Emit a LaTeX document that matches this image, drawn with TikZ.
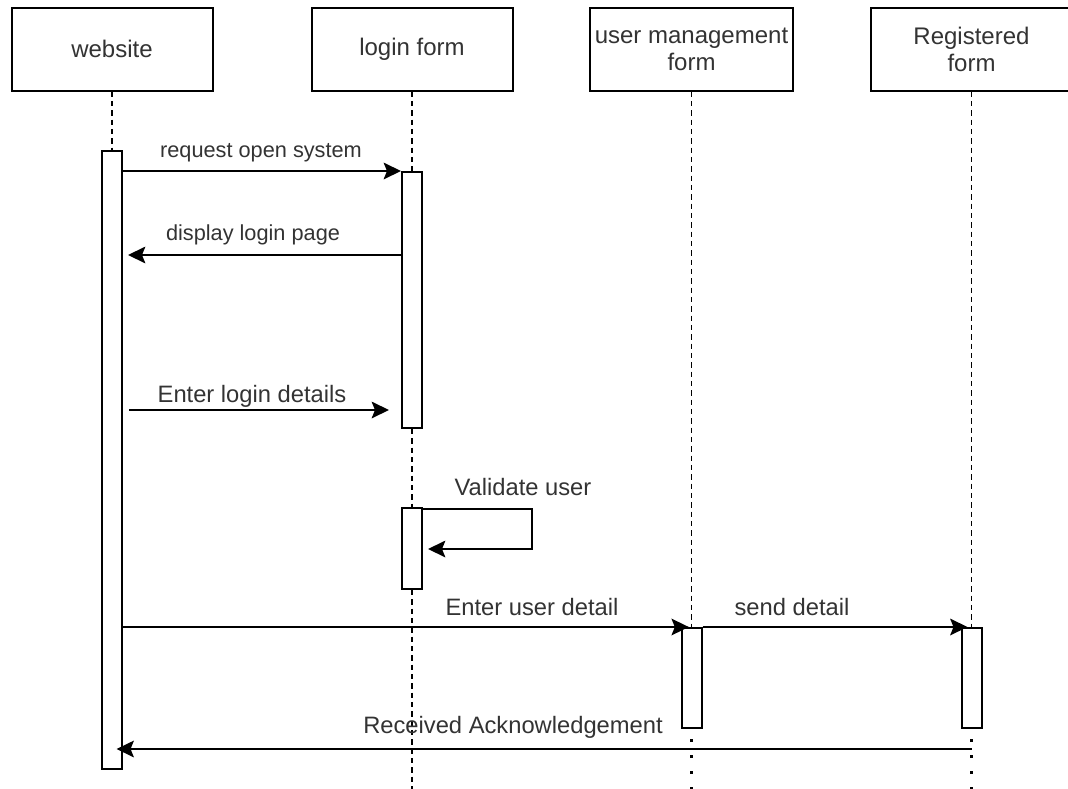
\documentclass[tikz,border=0pt]{standalone}
\usepackage{fontspec}
\setmainfont{Liberation Sans}
\usetikzlibrary{arrows.meta}
\definecolor{txtgray}{HTML}{333333}
\tikzset{
  lane/.style={draw, line width=1.5pt, fill=white, minimum width=150.75pt, minimum height=62.25pt, align=center, text=txtgray, font=\fontsize{18}{20.25}\selectfont},
  actbar/.style={draw, line width=1.5pt, fill=white, minimum width=15pt, inner sep=0pt},
  life/.style={line width=1.2pt, dash pattern=on 4pt off 3pt},
  lifedots/.style={line width=1.9pt, dash pattern=on 2pt off 10pt, dash phase=4.5pt},
  msg/.style={line width=1.3pt, -{Stealth[length=13pt,width=12.5pt,inset=2.5pt]}},
  lbl/.style={text=txtgray, inner sep=0pt, font=\fontsize{17.8}{20}\selectfont},
  lblsmall/.style={lbl, font=\fontsize{16.3}{18}\selectfont}
}
\begin{document}
\begin{tikzpicture}[x=0.75pt, y=-0.75pt]
\clip (0,0) rectangle (1068,789);
% participants
\node[lane] (web) at (112,49) {website};
\node[lane] (login) at (412,49) {login form};
\node[lane] (user) at (691.5,49) {user management\\form};
\node[lane] (reg) at (971.5,49) {Registered\\form};
% activations
\node[actbar, minimum height=463.5pt] (webact) at (112,460) {};
\node[actbar, minimum height=192pt] (loginact) at (412,300) {};
\node[actbar, minimum height=60.75pt] (valact) at (412,548.5) {};
\node[actbar, minimum height=75pt] (useract) at (691.5,678) {};
\node[actbar, minimum height=75pt] (regact) at (971.5,678) {};
\coordinate (loginend) at (412,789);
\coordinate (userend) at (691.5,789);
\coordinate (regend) at (971.5,789);
% lifelines
\draw[life] (web.south) -- (webact.north);
\draw[life] (login.south) -- (loginact.north);
\draw[life] (loginact.south) -- (valact.north);
\draw[life] (valact.south) -- (loginend);
\draw[life] (user.south) -- (useract.north);
\draw[life] (reg.south) -- (regact.north);
\draw[lifedots] (useract.south) -- (userend);
\draw[lifedots] (regact.south) -- (regend);
% messages
\coordinate (dispy) at (0,255);
\coordinate (entery) at (0,410);
\coordinate (valturn) at (532,549);
\coordinate (acky) at (0,749);
\draw[msg] (webact.east |- loginact.north) -- (loginact.north west);
\draw[msg, shorten >=3.75pt] (loginact.west |- dispy) -- (webact.east |- dispy);
\draw[msg, shorten <=4.5pt, shorten >=9pt] (webact.east |- entery) -- (loginact.west |- entery);
\draw[msg, shorten >=3.75pt] ([yshift=-1.5pt]valact.north east) -| (valturn) -- (valact.east |- valturn);
\draw[msg, shorten >=2pt] (webact.east |- useract.north) -- (useract.north);
\draw[msg, shorten >=3pt] (useract.north east) -- (regact.north);
\draw[msg, shorten >=3.4pt] (reg.south |- acky) -- (webact.center |- acky);
% labels
\node[lblsmall] (reqlbl) at (261,153) {request open system};
\node[lblsmall] (displbl) at (253,235) {display login page};
\node[lbl] (enterlbl) at (252,396) {Enter login details};
\node[lbl] (vallbl) at (523,487) {Validate user};
\node[lbl] (userlbl) at (532,607) {Enter user detail};
\node[lbl] (sendlbl) at (792,607) {send detail};
\node[lbl] (acklbl) at (513,727) {Received Acknowledgement};
\end{tikzpicture}
\end{document}
